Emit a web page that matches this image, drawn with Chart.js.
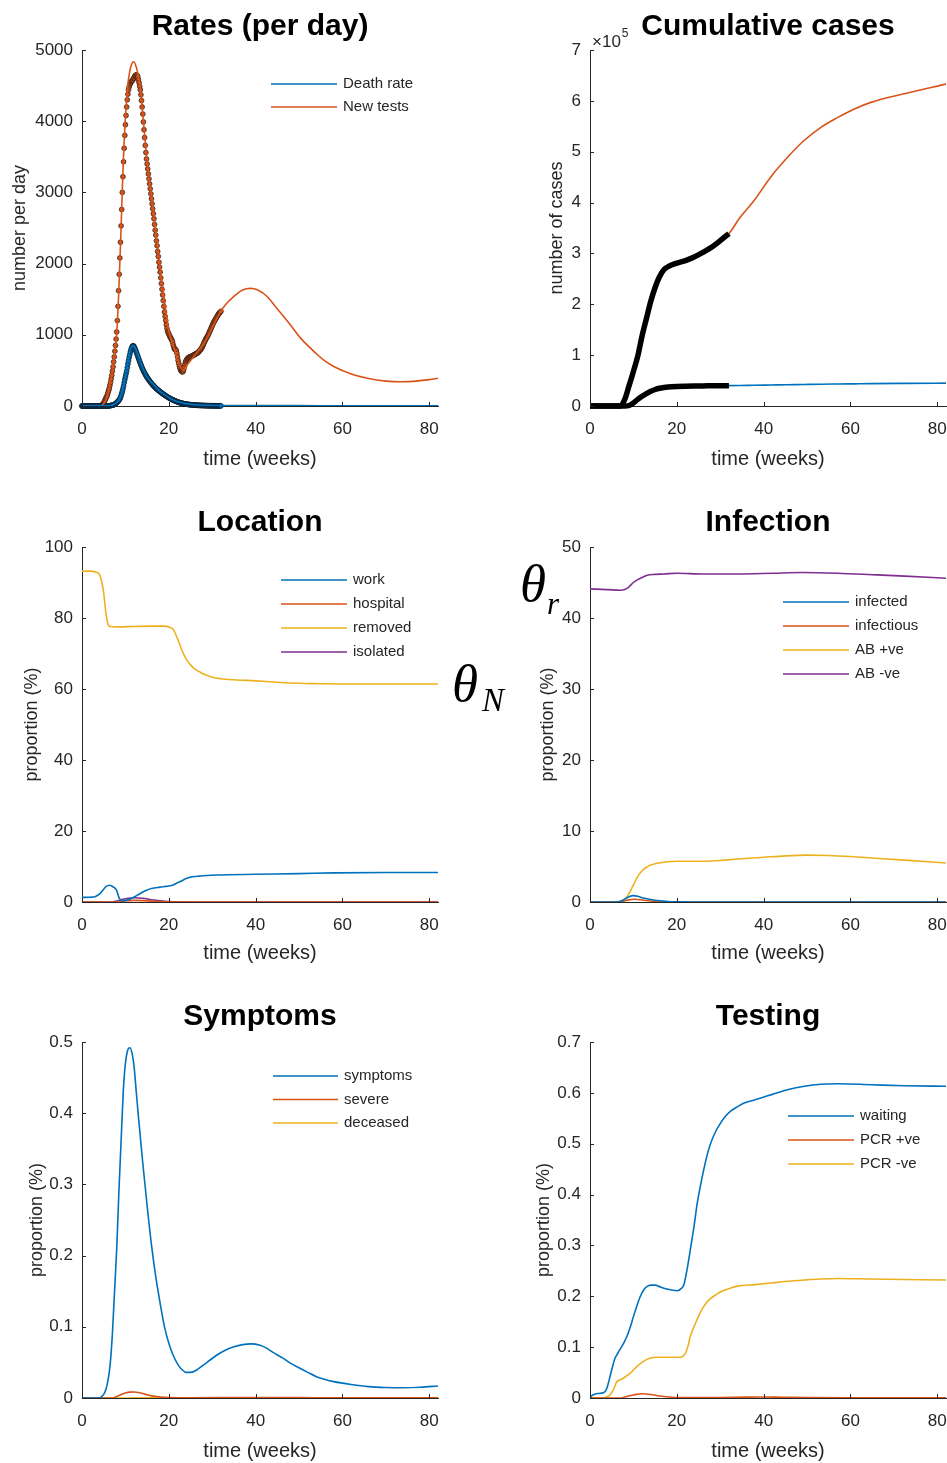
<!DOCTYPE html>
<html>
<head>
<meta charset="utf-8">
<title>Model outputs</title>
<script src="https://cdn.jsdelivr.net/npm/chart.js@4.4.1/dist/chart.umd.min.js"></script>
<style>
  html, body { margin: 0; background: #fff; overflow: hidden; }
  body { width: 947px; height: 1463px; position: relative; }
  canvas { position: absolute; }
  .sym { position: absolute; font-family: "Liberation Serif", "DejaVu Serif", serif; font-style: italic; line-height: 1; color: #000; white-space: nowrap; }
</style>
</head>
<body>
<canvas id="rates" width="473" height="490" style="left:0;top:0"></canvas>
<canvas id="cumulative" width="474" height="490" style="left:473px;top:0"></canvas>
<canvas id="location" width="473" height="495" style="left:0;top:490px"></canvas>
<canvas id="infection" width="474" height="495" style="left:473px;top:490px"></canvas>
<canvas id="symptoms" width="473" height="478" style="left:0;top:985px"></canvas>
<canvas id="testing" width="474" height="478" style="left:473px;top:985px"></canvas>

<span class="sym" style="left:520px;top:557px;font-size:53px">θ</span>
<span class="sym" style="left:547px;top:588px;font-size:31px">r</span>
<span class="sym" style="left:452px;top:657px;font-size:53px">θ</span>
<span class="sym" style="left:482px;top:684px;font-size:33px">N</span>

<script>
// ---- Rates (per day): model curves (weeks) ----
const deathRateWeeks = [0,6,7,8,9,10,10.5,11,11.6,12.5,13.5,15,16.5,18,19.6,21,23,25,27,30,35,40,50,60,70,82];
const deathRateModel = [0,2,15,50,150,420,600,760,845,790,610,410,300,205,135,85,45,25,14,8,6,6,5,4,3,2];
const newTestsWeeks = [0,4,4.5,5,5.5,6,6.5,7,7.5,8,8.5,9,9.5,10,10.5,11,11.5,11.9,12.5,13,13.4,14,14.5,15,16,16.5,17,18,19,19.6,20,21.1,22,23.3,24.5,25.7,27,28.8,30,31.9,33,35,37,38.8,40.5,42.7,44.5,46.5,48.5,50.4,52.5,54.3,56,58.1,62,65.8,70,73.5,77,80,82];
const newTestsModel = [0,0,5,30,80,180,320,500,740,1020,1650,2500,3420,4050,4480,4700,4810,4835,4760,4620,4485,4100,3750,3420,2950,2706,2450,1956,1480,1208,1060,833,650,505,600,692,790,950,1100,1324,1420,1540,1630,1652,1630,1535,1400,1254,1100,950,820,716,630,552,450,389,350,341,350,370,389];

// ---- Rates (per day): daily observations, one row per week ----
const deathRateDaily = [
  0,0,0,0,0,0,0,  0,0,0,0,0,0,0,  0,0,0,0,0,0,0,  0,0,0,0,0,0,0,
  0,0,0,0,0,0,0,  0,0,0,0,0,0,0,  0,0,2,4,6,8,10,  11,12,16,20,26,33,40,
  48,56,65,75,85,100,120,  145,175,205,240,280,325,370,  410,450,490,540,590,635,680,
  720,760,790,815,835,845,845,  835,815,795,772,748,722,697,  672,648,624,600,578,556,535,
  515,496,478,461,445,430,415,  402,389,376,364,352,340,329,  318,308,298,288,279,270,261,
  252,244,236,228,221,214,207,  200,193,186,180,173,167,161,  155,149,143,137,132,126,121,
  116,111,106,101,97,92,88,  84,80,76,72,68,65,61,  58,55,52,49,46,44,41,
  39,37,35,33,31,30,28,  27,25,24,22,21,20,19,  18,17,16,15,14,14,13,
  12,12,11,11,10,10,9,  9,8,8,8,7,7,7,  6,6,6,5,5,5,5,
  4,4,4,4,4,3,3,  3,3,3,3,3,3,2,  2,2,2,2,2,2,2,  2
];
const newTestsDaily = [
  0,0,0,0,0,0,0,  0,0,0,0,0,0,0,  0,0,0,0,0,0,0,  0,0,0,0,0,0,0,
  0,0,0,0,10,20,30,  45,60,80,100,120,135,160,  190,220,250,290,330,380,430,
  490,550,620,690,770,850,940,  1040,1200,1400,1620,1850,2080,2300,  2530,2760,3000,3220,3430,3620,3800,
  3950,4080,4200,4300,4380,4440,4480,  4510,4530,4550,4560,4570,4580,4600,  4610,4630,4640,4650,4650,4640,4620,
  4580,4540,4490,4440,4370,4290,4200,  4100,3990,3880,3770,3660,3560,3470,  3400,3330,3260,3190,3120,3050,2980,
  2910,2840,2770,2700,2630,2550,2470,  2400,2320,2250,2170,2100,2020,1950,  1880,1800,1720,1640,1560,1480,1400,
  1320,1260,1200,1140,1090,1050,1030,  1010,990,970,955,940,925,900,  860,830,800,800,790,780,740,
  690,640,600,560,530,505,490,  483,480,485,510,550,590,620,  640,655,665,675,680,685,690,
  692,695,700,705,710,715,720,  725,730,735,740,745,750,760,  770,780,790,800,815,830,850,
  870,890,910,930,945,960,975,  990,1010,1030,1050,1070,1090,1110,  1130,1150,1170,1185,1200,1215,1230,
  1245,1260,1275,1290,1300,1310,1320,  1330
];

// ---- Cumulative cases ----
const cumDataWeeks = [0,7,8,9,10,11,12,13,14,15,16,17,18,20,22,24,26,28,30,32];
const cumTestsData = [0,0,13000,40000,68000,98000,138000,172000,206000,233000,254000,268000,274000,281000,286000,293000,302000,312000,325000,339000];
const cumDeathsData = [0,0,0,1000,6000,13000,19000,24500,29000,32500,35000,36500,37500,38500,39000,39300,39500,39700,39900,40000];
const cumModelWeeks = [0,7,8,9,10,11,12,13,14,15,16,17,18,20,22,24,26,28,30,32,34.5,37.8,41.6,45.5,49.3,53.2,57,60.9,64.7,72.4,82];
const cumTestsModel = [0,0,13000,40000,68000,98000,138000,172000,206000,233000,254000,268000,274000,281000,286000,293000,302000,312000,325000,339000,370000,404000,450000,489000,522000,548000,567000,584000,597000,614000,633000];
const cumDeathsModel = [0,0,0,1000,6000,13000,19000,24500,29000,32500,35000,36500,37500,38500,39000,39300,39500,39700,39900,40000,40300,40800,41300,41800,42300,42800,43200,43600,44000,44500,45000];

// ---- Location (%) ----
const workWeeks = [0,2,3,4,5,5.5,6.3,7,7.5,8,8.5,9,9.5,10,11,12,13,14,15,16,17,18,19,20,21,22,23,24,25,26,27,28,31,40,50,58,70,82];
const workVals = [1.3,1.35,1.5,2.2,3.6,4.3,4.7,4.4,4.0,3.2,1.3,0.5,0.3,0.45,0.8,1.4,2.1,2.8,3.4,3.8,4.0,4.2,4.35,4.5,4.8,5.4,6.0,6.6,7.0,7.2,7.3,7.4,7.6,7.8,8.0,8.2,8.3,8.3];
const hospitalWeeks = [0,8,10,12,14,16,18,20,24,82];
const hospitalVals = [0,0,0.3,0.45,0.4,0.25,0.12,0.05,0.02,0.02];
const removedWeeks = [0,2,3,3.5,4,4.5,5,5.5,6,6.5,8,12,16,19,20,21,22,23,24,25,26,27,28,30,32,35,40,45,50,55,60,70,82];
const removedVals = [93.2,93.2,93.0,92.8,92.3,90.5,87,81.5,78.2,77.6,77.5,77.6,77.7,77.7,77.5,76.8,74.2,71,68.4,66.8,65.6,64.9,64.2,63.3,62.9,62.6,62.3,61.9,61.6,61.5,61.4,61.4,61.4];
const isolatedWeeks = [0,7,8,10,12,14,16,18,20,22,25,82];
const isolatedVals = [0,0,0.3,0.9,1.2,1.05,0.65,0.35,0.15,0.05,0.02,0.02];

// ---- Infection (%) ----
const infectedWeeks = [0,6,7,8,9,10,11,12,14,16,18,20,25,82];
const infectedVals = [0,0,0.1,0.4,0.75,0.9,0.8,0.6,0.35,0.18,0.08,0.03,0.01,0.01];
const infectiousWeeks = [0,7,8,9,10,11,12,14,16,18,22,82];
const infectiousVals = [0,0,0.15,0.3,0.38,0.35,0.28,0.15,0.07,0.03,0.01,0.01];
const abPosWeeks = [0,6,7,8,8.5,9,10,11,12,13,14,15,17,20,26,30,34,40,45,50,55,60,65,72.5,82];
const abPosVals = [0,0,0.1,0.4,0.7,1.2,2.4,3.6,4.4,4.9,5.2,5.4,5.6,5.75,5.75,5.85,6.05,6.3,6.5,6.6,6.55,6.4,6.2,5.9,5.5];
const abNegWeeks = [0,4,7,8,9,10,11,12,13,15,17,20,26,34,42,49,57,65,72.5,82];
const abNegVals = [44.1,44.0,43.9,44.0,44.4,45.0,45.4,45.7,46.0,46.15,46.2,46.3,46.2,46.2,46.3,46.4,46.3,46.1,45.9,45.6];

// ---- Symptoms (%) ----
const symptomsWeeks = [0,4,4.5,5,5.5,6,6.5,7,7.5,8,8.5,9,9.5,10,10.5,11,11.5,12,12.5,13,14,15,16,17,18,19,20,21,22,23,24,25,26,27,29,31,33,35,37,39,41,42.5,44,46.3,48,50.2,52,54,56,58,62,66,70,74,78,82];
const symptomsVals = [0,0,0.002,0.005,0.012,0.025,0.048,0.09,0.15,0.21,0.29,0.36,0.43,0.47,0.488,0.492,0.485,0.465,0.43,0.395,0.33,0.27,0.215,0.17,0.133,0.1,0.077,0.06,0.048,0.04,0.036,0.036,0.038,0.042,0.051,0.06,0.067,0.072,0.075,0.076,0.074,0.07,0.064,0.056,0.049,0.0417,0.036,0.03,0.026,0.023,0.019,0.016,0.0148,0.0145,0.0152,0.0169];
const severeWeeks = [0,7,8,9,10,11,12,13,14,15,16,18,20,25,35,40,50,60,82];
const severeVals = [0,0,0.002,0.005,0.007,0.0082,0.0084,0.0078,0.0062,0.0045,0.003,0.0015,0.0008,0.0004,0.0006,0.0007,0.0005,0.0003,0.0002];
const deceasedWeeks = [0,8,12,20,82];
const deceasedVals = [0,0,0.0002,0.0003,0.0003];

// ---- Testing (%) ----
const waitingWeeks = [0,0.5,1.2,2,3.1,3.6,4,4.6,5.2,5.8,6.2,6.8,7.3,8,8.5,9.3,10,10.8,11.6,12.4,13.1,14,15,16,17,18.5,20.1,21,21.6,22.3,23.1,24,24.7,25.5,26.2,27,27.8,29,30.1,31.2,32.4,34,35.5,37.5,39.4,42,45.5,49.4,53.2,57.1,64.8,72.5,82];
const waitingVals = [0,0.005,0.008,0.009,0.0105,0.014,0.022,0.042,0.062,0.079,0.085,0.094,0.101,0.112,0.121,0.14,0.16,0.181,0.2,0.213,0.219,0.222,0.222,0.219,0.216,0.213,0.211,0.215,0.222,0.25,0.291,0.34,0.383,0.42,0.449,0.478,0.501,0.525,0.541,0.554,0.564,0.573,0.58,0.585,0.59,0.597,0.606,0.613,0.617,0.618,0.616,0.614,0.613];
const pcrPosWeeks = [0,7,8,10,12,14,16,18,21,30,36,40,44,50,60,82];
const pcrPosVals = [0,0,0.002,0.006,0.0085,0.007,0.004,0.002,0.0008,0.001,0.0018,0.002,0.0015,0.0008,0.0004,0.0003];
const pcrNegWeeks = [0,3,3.8,4.6,5.3,6.2,7,7.7,8.5,9.3,10,10.8,12,13.1,14.2,15.4,18,20.8,21.5,22,22.6,23.1,24.3,25.5,26.6,27.8,29,30.1,32,34,38,41.7,45,49.4,53,57.1,64.8,82];
const pcrNegVals = [0,0,0.002,0.006,0.015,0.032,0.036,0.039,0.044,0.049,0.055,0.062,0.07,0.076,0.079,0.08,0.08,0.08,0.083,0.088,0.103,0.121,0.147,0.17,0.185,0.196,0.203,0.209,0.215,0.22,0.223,0.226,0.229,0.232,0.234,0.235,0.234,0.232];

const BLUE = "#0072BD", ORANGE = "#D95319", YELLOW = "#EDB120", PURPLE = "#7E2F8E";
const AXIS = "#262626";
const FONT = '"Liberation Sans", Arial, Helvetica, sans-serif';

Chart.defaults.font.family = FONT;
Chart.defaults.color = AXIS;

function pts(xs, ys) {
    return xs.map((x, i) => ({ x: x, y: ys[i] }));
}

// day index -> weeks, for the daily series
function dailyPts(ys) {
    return ys.map((y, d) => ({ x: d / 7, y: y }));
}

function curve(label, xs, ys, color) {
    return {
        label: label,
        data: pts(xs, ys),
        showLine: true,
        borderColor: color,
        backgroundColor: color,
        borderWidth: 1.6,
        pointRadius: 0,
        cubicInterpolationMode: "monotone"
    };
}

// one decimal place labels, "0" at the origin
const oneDecimal = v => (Math.abs(v) < 1e-9 ? "0" : v.toFixed(1));

// MATLAB style tick marks pointing into the plot
const inwardTicks = {
    id: "inwardTicks",
    afterDraw(chart) {
        const ctx = chart.ctx;
        const a = chart.chartArea;
        const sx = chart.scales.x, sy = chart.scales.y;
        ctx.save();
        ctx.strokeStyle = AXIS;
        ctx.lineWidth = 1;
        ctx.beginPath();
        sx.ticks.forEach(t => {
            const p = Math.round(sx.getPixelForValue(t.value)) + 0.5;
            ctx.moveTo(p, a.bottom);
            ctx.lineTo(p, a.bottom - 4);
        });
        sy.ticks.forEach(t => {
            const p = Math.round(sy.getPixelForValue(t.value)) + 0.5;
            ctx.moveTo(a.left, p);
            ctx.lineTo(a.left + 4, p);
        });
        ctx.stroke();
        ctx.restore();
    }
};

// legend drawn inside the axes, no box
const innerLegend = {
    id: "innerLegend",
    afterDraw(chart, args, opts) {
        if (!opts || opts.x === undefined) return;
        const ctx = chart.ctx;
        ctx.save();
        ctx.font = "15px " + FONT;
        ctx.textBaseline = "middle";
        let y = opts.y;
        chart.data.datasets.forEach(ds => {
            if (ds.inLegend === false) return;
            ctx.strokeStyle = ds.borderColor;
            ctx.lineWidth = 1.6;
            ctx.beginPath();
            ctx.moveTo(opts.x, y);
            ctx.lineTo(opts.x + opts.len, y);
            ctx.stroke();
            ctx.fillStyle = AXIS;
            ctx.fillText(ds.label, opts.x + opts.len + 6, y);
            y += opts.dy;
        });
        ctx.restore();
    }
};

// "x10^5" multiplier above the y axis
const exponentLabel = {
    id: "exponentLabel",
    afterDraw(chart, args, opts) {
        if (!opts || !opts.base) return;
        const ctx = chart.ctx;
        const a = chart.chartArea;
        ctx.save();
        ctx.fillStyle = AXIS;
        ctx.textBaseline = "alphabetic";
        ctx.font = "17px " + FONT;
        ctx.fillText(opts.base, a.left + 2, a.top - 3);
        const w = ctx.measureText(opts.base).width;
        ctx.font = "12px " + FONT;
        ctx.fillText(opts.power, a.left + 3 + w, a.top - 13);
        ctx.restore();
    }
};

function panel(id, o) {
    const tickFont = { size: 17 };
    return new Chart(document.getElementById(id), {
        type: "scatter",
        data: { datasets: o.datasets },
        options: {
            responsive: false,
            animation: false,
            devicePixelRatio: 1,
            layout: { padding: { left: 0, right: o.right, top: 0, bottom: 0 } },
            plugins: {
                legend: { display: false },
                tooltip: { enabled: false },
                title: {
                    display: true,
                    text: o.title,
                    color: "#000",
                    fullSize: false,
                    font: { size: 30, weight: "bold" },
                    padding: { top: o.titleTop, bottom: o.titleBottom }
                },
                innerLegend: o.legend || {},
                exponentLabel: o.exponent || {}
            },
            scales: {
                x: {
                    type: "linear",
                    min: 0,
                    max: 82,
                    ticks: { stepSize: 20, includeBounds: false, padding: 13, font: tickFont, color: AXIS, maxRotation: 0 },
                    grid: { display: false, drawTicks: false },
                    border: { display: true, color: AXIS, width: 1 },
                    title: { display: true, text: "time (weeks)", color: AXIS, font: { size: 20 }, padding: { top: 0, bottom: o.xTitlePad } },
                    afterFit: s => { s.height = o.xHeight; s.paddingLeft = 0; s.paddingRight = 0; }
                },
                y: {
                    type: "linear",
                    min: 0,
                    max: o.yMax,
                    ticks: { stepSize: o.yStep, includeBounds: false, padding: 9, font: tickFont, color: AXIS, callback: o.yFormat },
                    grid: { display: false, drawTicks: false },
                    border: { display: true, color: AXIS, width: 1 },
                    title: { display: true, text: o.yTitle, color: AXIS, font: { size: 18 }, padding: { top: o.yTitlePad, bottom: 0 } },
                    afterFit: s => { s.width = o.yWidth; }
                }
            }
        },
        plugins: [inwardTicks, innerLegend, exponentLabel]
    });
}

panel("rates", {
    title: "Rates (per day)",
    titleTop: 9, titleBottom: 5,
    right: 35, xHeight: 84, xTitlePad: 19,
    yWidth: 82, yTitlePad: 9, yTitle: "number per day",
    yMax: 5000, yStep: 1000,
    legend: { x: 271, y: 84, dy: 23, len: 66 },
    datasets: [
        curve("Death rate", deathRateWeeks, deathRateModel, BLUE),
        curve("New tests", newTestsWeeks, newTestsModel, ORANGE),
        {
            label: "Death rate data", inLegend: false, data: dailyPts(deathRateDaily),
            showLine: false, pointRadius: 2.4, pointBackgroundColor: BLUE,
            pointBorderColor: "#0b1d2b", pointBorderWidth: 0.8, clip: 6
        },
        {
            label: "New tests data", inLegend: false, data: dailyPts(newTestsDaily),
            showLine: false, pointRadius: 2.4, pointBackgroundColor: ORANGE,
            pointBorderColor: "#3b2216", pointBorderWidth: 0.8, clip: 6
        }
    ]
});

panel("cumulative", {
    title: "Cumulative cases",
    titleTop: 9, titleBottom: 5,
    right: 1, xHeight: 84, xTitlePad: 19,
    yWidth: 117, yTitlePad: 73, yTitle: "number of cases",
    yMax: 700000, yStep: 100000,
    yFormat: v => v / 100000,
    exponent: { base: "\u00d710", power: "5" },
    datasets: [
        Object.assign(curve("cumulative tests data", cumDataWeeks, cumTestsData, "#000"), { borderWidth: 5.5, inLegend: false, clip: 6 }),
        Object.assign(curve("cumulative deaths data", cumDataWeeks, cumDeathsData, "#000"), { borderWidth: 5.5, inLegend: false, clip: 6 }),
        curve("cumulative tests", cumModelWeeks, cumTestsModel, ORANGE),
        curve("cumulative deaths", cumModelWeeks, cumDeathsModel, BLUE)
    ]
});

panel("location", {
    title: "Location",
    titleTop: 15, titleBottom: 6,
    right: 35, xHeight: 83, xTitlePad: 20,
    yWidth: 82, yTitlePad: 21, yTitle: "proportion (%)",
    yMax: 100, yStep: 20,
    legend: { x: 281, y: 90, dy: 24, len: 66 },
    datasets: [
        curve("work", workWeeks, workVals, BLUE),
        curve("hospital", hospitalWeeks, hospitalVals, ORANGE),
        curve("removed", removedWeeks, removedVals, YELLOW),
        curve("isolated", isolatedWeeks, isolatedVals, PURPLE)
    ]
});

panel("infection", {
    title: "Infection",
    titleTop: 15, titleBottom: 6,
    right: 1, xHeight: 83, xTitlePad: 20,
    yWidth: 117, yTitlePad: 64, yTitle: "proportion (%)",
    yMax: 50, yStep: 10,
    legend: { x: 310, y: 112, dy: 24, len: 66 },
    datasets: [
        curve("infected", infectedWeeks, infectedVals, BLUE),
        curve("infectious", infectiousWeeks, infectiousVals, ORANGE),
        curve("AB +ve", abPosWeeks, abPosVals, YELLOW),
        curve("AB -ve", abNegWeeks, abNegVals, PURPLE)
    ]
});

panel("symptoms", {
    title: "Symptoms",
    titleTop: 14, titleBottom: 7,
    right: 35, xHeight: 65, xTitlePad: 0,
    yWidth: 82, yTitlePad: 26, yTitle: "proportion (%)",
    yMax: 0.5, yStep: 0.1, yFormat: oneDecimal,
    legend: { x: 273, y: 91, dy: 23.5, len: 65 },
    datasets: [
        curve("symptoms", symptomsWeeks, symptomsVals, BLUE),
        curve("severe", severeWeeks, severeVals, ORANGE),
        curve("deceased", deceasedWeeks, deceasedVals, YELLOW)
    ]
});

panel("testing", {
    title: "Testing",
    titleTop: 14, titleBottom: 7,
    right: 1, xHeight: 65, xTitlePad: 0,
    yWidth: 117, yTitlePad: 60, yTitle: "proportion (%)",
    yMax: 0.7, yStep: 0.1, yFormat: oneDecimal,
    legend: { x: 315, y: 131, dy: 24, len: 66 },
    datasets: [
        curve("waiting", waitingWeeks, waitingVals, BLUE),
        curve("PCR +ve", pcrPosWeeks, pcrPosVals, ORANGE),
        curve("PCR -ve", pcrNegWeeks, pcrNegVals, YELLOW)
    ]
});
</script>
</body>
</html>
